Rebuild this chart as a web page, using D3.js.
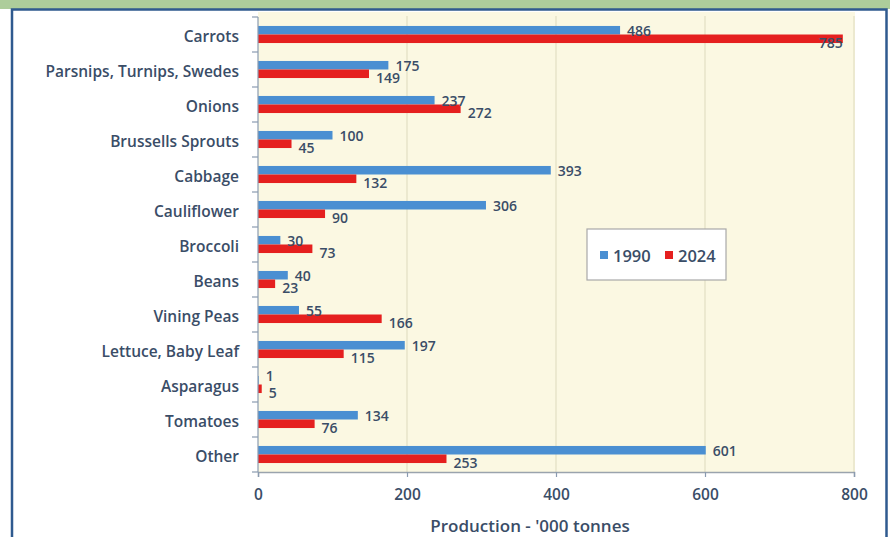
<!DOCTYPE html>
<html>
<head>
<meta charset="utf-8">
<script src="https://cdn.jsdelivr.net/npm/d3@7"></script>
<style>
  html, body { margin: 0; padding: 0; background: #ffffff; }
  svg { display: block; font-family: "Open Sans", "Noto Sans", sans-serif; }
</style>
</head>
<body>
<svg id="chart" width="890" height="537"></svg>
<script>
// Vegetable production, '000 tonnes
const categories = [
  "Carrots", "Parsnips, Turnips, Swedes", "Onions", "Brussells Sprouts",
  "Cabbage", "Cauliflower", "Broccoli", "Beans", "Vining Peas",
  "Lettuce, Baby Leaf", "Asparagus", "Tomatoes", "Other"
];
const values1990 = [486, 175, 237, 100, 393, 306, 30, 40, 55, 197, 1, 134, 601];
const values2024 = [785, 149, 272, 45, 132, 90, 73, 23, 166, 115, 5, 76, 253];
const seriesNames = ["1990", "2024"];
const xTicks = [0, 200, 400, 600, 800];

const series = [
  { name: seriesNames[0], values: values1990, color: "#4a8fd2", dy: 0.5 },
  { name: seriesNames[1], values: values2024, color: "#e5201f", dy: 3.5 }
];

const svg = d3.select("#chart");
const W = 890, H = 537;
const textColor = "#3a4d67";

// frame: green header strip and blue border
svg.append("rect").attr("x", 0).attr("y", 0).attr("width", W).attr("height", 9).attr("fill", "#adcd9b");
svg.append("rect").attr("x", 12).attr("y", 9.5).attr("width", 874.5).attr("height", H + 10)
  .attr("fill", "#ffffff").attr("stroke", "#2f5a8f").attr("stroke-width", 2.5);

const plot = { left: 258, right: 855, top: 17, bottom: 472 };

const x = d3.scaleLinear().domain([0, 800]).range([plot.left, plot.right - 1]);
const y = d3.scaleBand().domain(categories).range([plot.top, plot.bottom]).paddingInner(0).paddingOuter(0);
const inner = d3.scaleBand().domain(seriesNames).range([0, y.bandwidth()]).paddingInner(0).paddingOuter(1.05);

// plot background
svg.append("rect").attr("x", plot.left).attr("y", 12).attr("width", plot.right - plot.left)
  .attr("height", plot.bottom - 12).attr("fill", "#fbf8e2");

// vertical gridlines
svg.append("g").selectAll("line").data(xTicks.slice(1)).join("line")
  .attr("x1", d => x(d)).attr("x2", d => x(d))
  .attr("y1", 16).attr("y2", plot.bottom)
  .attr("stroke", "#e3dfc4").attr("stroke-width", 1.2);

// bars
const groups = svg.append("g").selectAll("g").data(categories).join("g")
  .attr("transform", d => `translate(0,${y(d)})`);

series.forEach(s => {
  groups.append("rect")
    .attr("x", x(0))
    .attr("y", inner(s.name))
    .attr("width", (d, i) => x(s.values[i]) - x(0))
    .attr("height", inner.bandwidth())
    .attr("fill", s.color);
});

// value labels: placed after the bar end, pulled inside when they would leave the plot,
// and nudged apart vertically when the two labels of a category nearly coincide
const labelX = v => {
  const end = x(v);
  return end + 34 > plot.right ? end : end + 7;
};
series.forEach((s, k) => {
  groups.append("text")
    .attr("x", (d, i) => labelX(s.values[i]))
    .attr("text-anchor", (d, i) => x(s.values[i]) + 34 > plot.right ? "end" : "start")
    .attr("y", (d, i) => {
      const close = Math.abs(labelX(values1990[i]) - labelX(values2024[i])) < 10;
      const nudge = close ? (k === 0 ? -5 : 0) : 0;
      return inner(s.name) + inner.bandwidth() / 2 + s.dy + nudge;
    })
    .attr("dominant-baseline", "central")
    .attr("font-size", 14).attr("font-weight", 600)
    .attr("fill", textColor)
    .text((d, i) => s.values[i]);
});

// y axis
const yAxis = svg.append("g").attr("transform", `translate(${plot.left},0)`);
yAxis.append("line").attr("x1", 0).attr("x2", 0).attr("y1", plot.top).attr("y2", plot.bottom)
  .attr("stroke", "#8a9bb0").attr("stroke-width", 1.2);
yAxis.selectAll("line.tick").data(d3.range(categories.length + 1)).join("line")
  .attr("class", "tick")
  .attr("x1", -6).attr("x2", 0)
  .attr("y1", i => plot.top + i * y.step()).attr("y2", i => plot.top + i * y.step())
  .attr("stroke", "#8a9bb0").attr("stroke-width", 1.2);
yAxis.selectAll("text").data(categories).join("text")
  .attr("x", -19)
  .attr("y", d => y(d) + y.bandwidth() / 2 + 1)
  .attr("text-anchor", "end").attr("dominant-baseline", "central")
  .attr("font-size", 15.5).attr("font-weight", 600).attr("fill", textColor)
  .text(d => d);

// x axis
const xAxis = d3.axisBottom(x).tickValues(xTicks).tickSize(5).tickPadding(12);
const xg = svg.append("g").attr("transform", `translate(0,${plot.bottom})`).call(xAxis);
xg.select(".domain").attr("stroke", "#9aa3ad").attr("stroke-width", 1.5);
xg.selectAll(".tick line").attr("stroke", "#8a9bb0").attr("stroke-width", 1.2);
xg.selectAll(".tick text").attr("font-size", 15.5).attr("font-weight", 600)
  .attr("fill", textColor).attr("font-family", "'Open Sans', sans-serif");

svg.append("text")
  .attr("x", 530).attr("y", 525)
  .attr("text-anchor", "middle").attr("dominant-baseline", "central")
  .attr("font-size", 17).attr("font-weight", 600).attr("fill", textColor)
  .text("Production - '000 tonnes");

// legend
const lg = svg.append("g").attr("transform", "translate(587,229)");
lg.append("rect").attr("width", 139).attr("height", 51)
  .attr("fill", "#ffffff").attr("stroke", "#a8a8a8").attr("stroke-width", 1.2);
const legendX = [13, 78];
series.forEach((s, i) => {
  lg.append("rect").attr("x", legendX[i]).attr("y", 22).attr("width", 8).attr("height", 8).attr("fill", s.color);
  lg.append("text").attr("x", legendX[i] + 13).attr("y", 26.5)
    .attr("dominant-baseline", "central")
    .attr("font-size", 16.5).attr("font-weight", 600).attr("fill", textColor)
    .text(s.name);
});
</script>
</body>
</html>
